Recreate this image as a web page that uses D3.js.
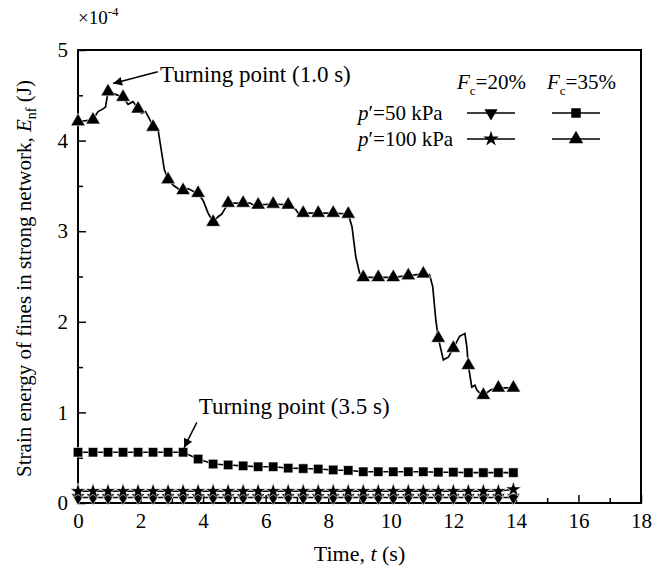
<!DOCTYPE html>
<html>
<head>
<meta charset="utf-8">
<script src="https://cdn.jsdelivr.net/npm/d3@7"></script>
<style>
body{margin:0;background:#fff;}
svg text{font-family:"Liberation Serif","Times New Roman",serif;fill:#000;}
</style>
</head>
<body>
<svg id="chart" width="652" height="569"></svg>
<script>
// marker times (s)
var markerT = [0,0.48,0.96,1.44,1.92,2.40,2.88,3.36,3.84,4.32,4.80,5.28,5.76,6.24,6.72,
               7.20,7.68,8.16,8.64,9.12,9.60,10.08,10.56,11.04,11.52,12.00,12.48,12.96,13.44,13.92];
// Fc=20%, p'=50 kPa (x1e-4 J)
var fc20p50 = [0.06,0.06,0.06,0.06,0.06,0.06,0.06,0.06,0.06,0.06,0.06,0.06,0.06,0.06,0.06,
               0.06,0.06,0.06,0.06,0.06,0.06,0.06,0.06,0.06,0.06,0.06,0.06,0.06,0.06,0.06];
// Fc=20%, p'=100 kPa
var fc20p100 = [0.13,0.13,0.13,0.13,0.13,0.13,0.13,0.13,0.13,0.13,0.13,0.13,0.13,0.13,0.13,
                0.13,0.13,0.13,0.13,0.13,0.13,0.13,0.13,0.13,0.13,0.13,0.13,0.13,0.13,0.15];
// Fc=35%, p'=50 kPa
var fc35p50 = [0.56,0.56,0.56,0.56,0.56,0.56,0.56,0.56,0.485,0.43,0.42,0.41,0.40,0.40,0.385,
               0.38,0.375,0.365,0.36,0.345,0.345,0.345,0.345,0.345,0.34,0.34,0.335,0.335,0.335,0.335];
// Fc=35%, p'=100 kPa, markers
var fc35p100 = [4.21,4.23,4.54,4.48,4.35,4.15,3.57,3.45,3.42,3.10,3.31,3.31,3.29,3.30,3.29,
                3.20,3.20,3.20,3.19,2.49,2.49,2.49,2.51,2.53,1.82,1.71,1.52,1.19,1.27,1.27];
// Fc=35%, p'=100 kPa, full curve
var curveT = [0,0.48,0.64,0.80,0.88,0.96,1.20,1.44,1.60,1.76,1.92,2.04,2.16,2.30,2.40,2.56,2.76,2.88,
              3.04,3.20,3.36,3.52,3.68,3.84,4.00,4.16,4.32,4.48,4.60,4.70,4.80,5.28,5.50,5.60,5.76,
              6.24,6.72,6.96,7.04,7.20,7.68,8.16,8.64,8.76,8.88,9.00,9.12,9.60,10.08,10.56,11.04,
              11.24,11.34,11.44,11.52,11.68,11.84,12.00,12.20,12.37,12.43,12.48,12.59,12.69,12.75,
              12.85,12.96,13.20,13.44,13.92];
var curveE = [4.21,4.23,4.32,4.35,4.37,4.54,4.51,4.48,4.40,4.43,4.35,4.30,4.32,4.23,4.15,4.12,3.68,3.57,
              3.51,3.47,3.45,3.47,3.44,3.42,3.34,3.20,3.10,3.16,3.19,3.25,3.31,3.31,3.31,3.29,3.29,
              3.30,3.29,3.24,3.20,3.20,3.20,3.20,3.19,3.05,2.72,2.54,2.49,2.49,2.49,2.51,2.53,
              2.52,2.39,2.02,1.82,1.58,1.61,1.71,1.84,1.87,1.73,1.52,1.28,1.30,1.25,
              1.21,1.19,1.25,1.27,1.27];
var xTicks = [0,2,4,6,8,10,12,14,16,18];
var yTicks = [0,1,2,3,4,5];

var svg = d3.select("#chart");
var m = {l:78, r:641, t:50, b:503};
var x = d3.scaleLinear().domain([0,18]).range([m.l,m.r]);
var y = d3.scaleLinear().domain([0,5]).range([m.b,m.t]);
var serif = '"Liberation Serif","Times New Roman",serif';

// axes
svg.append("g").attr("transform","translate(0,"+m.b+")")
  .call(d3.axisBottom(x).tickValues(xTicks).tickSize(-8).tickPadding(10).tickFormat(d3.format("d")));
svg.append("g").attr("transform","translate(0,"+m.b+")")
  .call(d3.axisBottom(x).tickValues(d3.range(1,18,2)).tickSize(-5).tickFormat(""));
svg.append("g").attr("transform","translate("+m.l+",0)")
  .call(d3.axisLeft(y).tickValues(yTicks).tickSize(-8).tickPadding(10).tickFormat(d3.format("d")));
svg.append("g").attr("transform","translate("+m.l+",0)")
  .call(d3.axisLeft(y).tickValues(d3.range(0.5,5,1)).tickSize(-5).tickFormat(""));
svg.selectAll(".domain").remove();
svg.selectAll(".tick line").attr("stroke","#000").attr("stroke-width",1.5);
svg.selectAll(".tick text").attr("font-size",21).attr("font-family",serif);

svg.append("rect").attr("x",m.l).attr("y",m.t).attr("width",m.r-m.l).attr("height",m.b-m.t)
  .attr("fill","none").attr("stroke","#000").attr("stroke-width",2);

// x10^-4
var mult = svg.append("text").attr("x",78).attr("y",24).attr("font-size",19);
mult.append("tspan").text("\u00d710");
mult.append("tspan").attr("dy",-8).attr("font-size",13).text("-4");

// axis titles
svg.append("text").attr("x",(m.l+m.r)/2).attr("y",561).attr("text-anchor","middle")
  .attr("font-size",22)
  .call(function(t){
    t.append("tspan").text("Time, ");
    t.append("tspan").attr("font-style","italic").text("t");
    t.append("tspan").text(" (s)");
  });
var yl = svg.append("text").attr("transform","translate(31,"+((m.t+m.b)/2+2)+") rotate(-90)")
  .attr("text-anchor","middle").attr("font-size",21);
yl.append("tspan").text("Strain energy of fines in strong network, ");
yl.append("tspan").attr("font-style","italic").text("E");
yl.append("tspan").attr("dy",5).attr("font-size",14).text("nf");
yl.append("tspan").attr("dy",-5).text(" (J)");

// series
var line = d3.line().x(function(d){return x(d[0]);}).y(function(d){return y(d[1]);});
var sym = {
  down: d3.symbol().type(d3.symbolTriangle).size(75),
  star: d3.symbol().type(d3.symbolStar).size(75),
  square: d3.symbol().type(d3.symbolSquare).size(90),
  up: d3.symbol().type(d3.symbolTriangle).size(90)
};
var series = [
  {vals:fc20p50, s:"down"},
  {vals:fc20p100, s:"star"},
  {vals:fc35p50, s:"square"}
];
series.forEach(function(sr){
  var pts = markerT.map(function(t,i){return [t, sr.vals[i]];});
  svg.append("path").datum(pts).attr("d",line).attr("fill","none").attr("stroke","#000").attr("stroke-width",1.6);
});
var curvePts = curveT.map(function(t,i){return [t, curveE[i]];});
svg.append("path").datum(curvePts).attr("d",line).attr("fill","none").attr("stroke","#000").attr("stroke-width",1.7);

series.concat([{vals:fc35p100, s:"up"}]).forEach(function(sr){
  svg.append("g").selectAll("path").data(markerT).enter().append("path")
    .attr("d",sym[sr.s])
    .attr("transform",function(t,i){
      return "translate("+x(t)+","+y(sr.vals[i])+")"+(sr.s=="down"?" rotate(180)":"");
    })
    .attr("fill","#000").attr("stroke","#fff").attr("stroke-width",0.6);
});

// annotations
svg.append("defs").append("marker").attr("id","ah").attr("viewBox","0 0 10 10")
  .attr("refX",10).attr("refY",5).attr("markerWidth",15).attr("markerHeight",9)
  .attr("markerUnits","userSpaceOnUse").attr("orient","auto")
  .append("path").attr("d","M0,0 L10,5 L0,10 Z").attr("fill","#000");
var notes = [
  {text:"Turning point (1.0 s)", tx:2.62, ty:4.65, x1:2.55, y1:4.76, x2:1.12, y2:4.63},
  {text:"Turning point (3.5 s)", tx:3.86, ty:0.98, x1:3.80, y1:0.89, x2:3.39, y2:0.61}
];
notes.forEach(function(n){
  svg.append("line").attr("x1",x(n.x1)).attr("y1",y(n.y1)).attr("x2",x(n.x2)).attr("y2",y(n.y2))
    .attr("stroke","#000").attr("stroke-width",1.5).attr("marker-end","url(#ah)");
  svg.append("text").attr("x",x(n.tx)).attr("y",y(n.ty)).attr("font-size",23).text(n.text);
});

// legend
var lg = svg.append("g");
[{x:457,t:"=20%"},{x:547,t:"=35%"}].forEach(function(h){
  var tt = lg.append("text").attr("x",h.x).attr("y",89).attr("font-size",21);
  tt.append("tspan").attr("font-style","italic").text("F");
  tt.append("tspan").attr("dy",6).attr("font-size",13).text("c");
  tt.append("tspan").attr("dy",-6).text(h.t);
});
[{y:113,t:"=50 kPa",a:"down",b:"square"},{y:139,t:"=100 kPa",a:"star",b:"up"}].forEach(function(r){
  var tt = lg.append("text").attr("x",358).attr("y",r.y+7).attr("font-size",21);
  tt.append("tspan").attr("font-style","italic").text("p");
  tt.append("tspan").text("\u2032"+r.t);
  [{x0:467,x1:515,s:r.a},{x0:552,x1:600,s:r.b}].forEach(function(c){
    lg.append("line").attr("x1",c.x0).attr("x2",c.x1).attr("y1",r.y).attr("y2",r.y)
      .attr("stroke","#000").attr("stroke-width",1.5);
    lg.append("path").attr("d",sym[c.s])
      .attr("transform","translate("+((c.x0+c.x1)/2)+","+r.y+")"+(c.s=="down"?" rotate(180)":""))
      .attr("fill","#000");
  });
});
</script>
</body>
</html>
